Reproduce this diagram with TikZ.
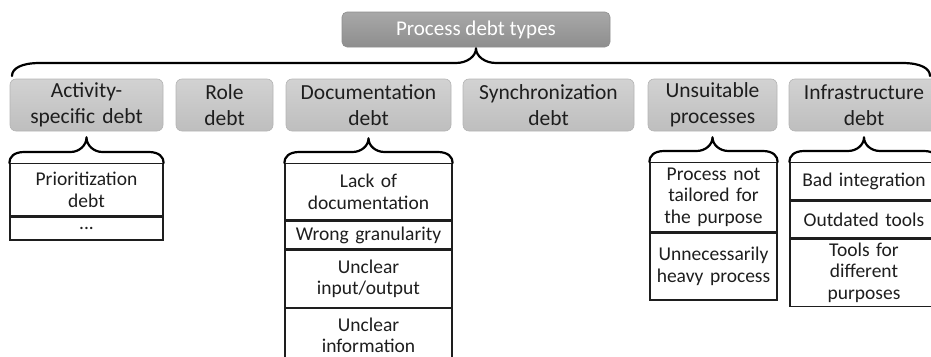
\documentclass[tikz,border=0pt]{standalone}
\usepackage{fontspec}
\setmainfont{Carlito}
\usetikzlibrary{calc}

\definecolor{inkdark}{HTML}{1E1E1E}
\definecolor{cattop}{HTML}{D2D2D2}
\definecolor{catbot}{HTML}{BEBEBE}
\definecolor{catrim}{HTML}{B4B4B4}
\definecolor{roottop}{HTML}{A8A8A8}
\definecolor{rootbot}{HTML}{8E8E8E}

% curly brace: left end, right end, tip, rise to the bar, corner run, tip run
\newcommand\curlybrace[6]{%
  \draw[bracestroke] let \p1=(#1), \p2=(#2), \p3=(#3) in
    (\x1,\y1) .. controls (\x1,{\y1+0.55*#4}) and ({\x1+0.3*#5},{\y1+#4}) .. ({\x1+#5},{\y1+#4})
    -- ({\x3-#6},{\y1+#4}) .. controls ({\x3-0.45*#6},{\y1+#4}) and (\x3,{\y1+#4+0.45*(\y3-\y1-#4)}) .. (\x3,\y3)
    .. controls (\x3,{\y1+#4+0.45*(\y3-\y1-#4)}) and ({\x3+0.45*#6},{\y1+#4}) .. ({\x3+#6},{\y1+#4})
    -- ({\x2-#5},{\y1+#4}) .. controls ({\x2-0.3*#5},{\y1+#4}) and (\x2,{\y2+0.55*#4}) .. (\x2,\y2);}

\begin{document}
\begin{tikzpicture}[x=1pt,y=-1pt,
  rootbox/.style={rounded corners=5pt, top color=roottop, bottom color=rootbot, draw=rootbot,
    line width=0.6pt, minimum width=268pt, minimum height=35pt, inner sep=0pt,
    text=white, font=\fontsize{21}{25}\selectfont},
  catbox/.style={rounded corners=6pt, top color=cattop, bottom color=catbot, draw=catrim,
    line width=0.6pt, minimum height=52pt, inner sep=0pt, align=center,
    text=inkdark, font=\fontsize{21.5}{26}\selectfont},
  cell/.style={draw=inkdark, line width=1.3pt, fill=white, inner sep=0pt, align=center,
    anchor=north, text=inkdark, font=\fontsize{19.5}{21.5}\selectfont},
  bracestroke/.style={draw=black, line width=2.2pt, line cap=round, line join=round}]

\useasboundingbox (0,0) rectangle (931,356);
\clip (0,0) rectangle (931,356);

% top level
\node[rootbox] (root) at (476,29.5) {Process debt types};

% categories
\node[catbox, text width=153pt] (act)  at (86.5,105)  {Activity-\\specific debt};
\node[catbox, text width=97pt]  (role) at (224.5,105)  {Role\\debt};
\node[catbox, text width=165pt] (doc)  at (368.5,105)  {Documentation\\debt};
\node[catbox, text width=171pt] (sync) at (548.5,105)  {Synchronization\\debt};
\node[catbox, text width=129pt] (uns)  at (712.5,105)  {Unsuitable\\processes};
\node[catbox, text width=150pt] (inf)  at (864,105)    {Infrastructure\\debt};

% brace joining the categories to the root
\coordinate (bigL) at (12,76);
\coordinate (bigR) at (930,76);
\coordinate (bigTip) at ($(root.south)+(0,1)$);
\curlybrace{bigL}{bigR}{bigTip}{13pt}{28pt}{20pt}

% activity-specific debt
\node[cell, text width=153pt, minimum height=52pt] (a1) at (86.5,163) {Prioritization\\debt};
\node[cell, text width=153pt, minimum height=23pt] (a2) at (a1.south) {...};

% documentation debt
\node[cell, text width=167pt, minimum height=56pt] (d1) at (368.5,163) {Lack of\\documentation};
\node[cell, text width=167pt, minimum height=28pt] (d2) at (d1.south) {Wrong granularity};
\node[cell, text width=167pt, minimum height=57pt] (d3) at (d2.south) {Unclear\\input/output};
\node[cell, text width=167pt, minimum height=53pt] (d4) at (d3.south) {Unclear\\information};
\draw[draw=inkdark, line width=1.3pt] (d4.north west) -- ++(0,60) (d4.north east) -- ++(0,60);

% unsuitable processes
\node[cell, text width=127pt, minimum height=69pt] (u1) at (713.5,162) {Process not\\tailored for\\the purpose};
\node[cell, text width=127pt, minimum height=67pt] (u2) at (u1.south) {Unnecessarily\\heavy process};

% infrastructure debt
\node[cell, text width=148pt, minimum height=37pt] (i1) at (864,162) {Bad integration};
\node[cell, text width=148pt, minimum height=37pt] (i2) at (i1.south) {Outdated tools};
\node[cell, text width=148pt, minimum height=67pt] (i3) at (i2.south) {Tools for\\different\\purposes};

% braces from categories to their lists
\coordinate (actTip) at ($(act.south)+(0,6)$);
\coordinate (docTip) at ($(doc.south)+(0,7)$);
\coordinate (unsTip) at ($(uns.south)+(0,6)$);
\coordinate (infTip) at ($(inf.south)+(0,6)$);
\curlybrace{a1.north west}{a1.north east}{actTip}{11pt}{15pt}{16pt}
\curlybrace{d1.north west}{d1.north east}{docTip}{11pt}{15pt}{16pt}
\curlybrace{u1.north west}{u1.north east}{unsTip}{11pt}{15pt}{16pt}
\curlybrace{i1.north west}{i1.north east}{infTip}{11pt}{15pt}{16pt}

\end{tikzpicture}
\end{document}
